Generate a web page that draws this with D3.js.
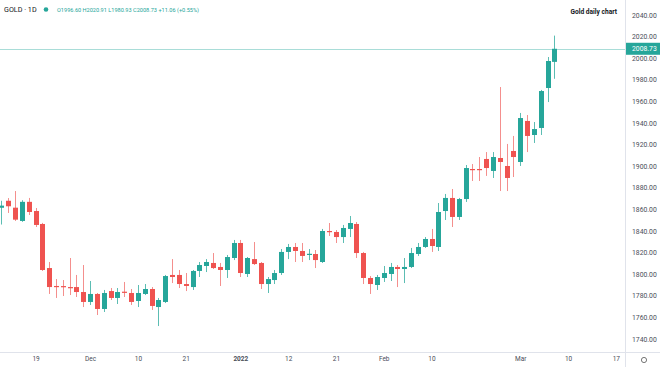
<!DOCTYPE html>
<html><head><meta charset="utf-8">
<script src="https://cdn.jsdelivr.net/npm/d3@7"></script>
<style>
html,body{margin:0;padding:0;background:#fff;}
svg{display:block;font-family:Roboto,"Noto Sans",sans-serif;}
</style></head>
<body><svg id="c" width="660" height="367"></svg>
<script>
const dates = ["2021-11-12","2021-11-15","2021-11-16","2021-11-17","2021-11-18","2021-11-19","2021-11-22","2021-11-23","2021-11-24","2021-11-25","2021-11-26","2021-11-29","2021-11-30","2021-12-01","2021-12-02","2021-12-03","2021-12-06","2021-12-07","2021-12-08","2021-12-09","2021-12-10","2021-12-13","2021-12-14","2021-12-15","2021-12-16","2021-12-17","2021-12-20","2021-12-21","2021-12-22","2021-12-23","2021-12-27","2021-12-28","2021-12-29","2021-12-30","2021-12-31","2022-01-03","2022-01-04","2022-01-05","2022-01-06","2022-01-07","2022-01-10","2022-01-11","2022-01-12","2022-01-13","2022-01-14","2022-01-17","2022-01-18","2022-01-19","2022-01-20","2022-01-21","2022-01-24","2022-01-25","2022-01-26","2022-01-27","2022-01-28","2022-01-31","2022-02-01","2022-02-02","2022-02-03","2022-02-04","2022-02-07","2022-02-08","2022-02-09","2022-02-10","2022-02-11","2022-02-14","2022-02-15","2022-02-16","2022-02-17","2022-02-18","2022-02-21","2022-02-22","2022-02-23","2022-02-24","2022-02-25","2022-02-28","2022-03-01","2022-03-02","2022-03-03","2022-03-04","2022-03-07","2022-03-08"];
const open  = [1861.5,1868.0,1861.6,1849.3,1867.0,1858.5,1846.5,1805.7,1789.1,1789.0,1788.1,1788.1,1783.5,1774.3,1781.7,1767.8,1784.4,1778.0,1783.8,1782.6,1775.2,1781.7,1786.3,1769.6,1774.3,1799.3,1799.3,1790.9,1788.1,1803.0,1807.6,1810.4,1806.7,1803.9,1815.0,1828.9,1800.2,1814.0,1810.4,1790.9,1794.6,1801.1,1820.6,1825.2,1821.5,1818.3,1818.7,1811.3,1840.0,1839.1,1834.4,1841.9,1846.5,1819.6,1796.5,1790.0,1796.5,1800.2,1806.7,1804.8,1806.7,1818.7,1825.2,1832.6,1825.2,1858.5,1870.6,1853.0,1869.6,1897.4,1897.4,1906.7,1895.6,1907.6,1900.2,1914.1,1903.9,1941.9,1928.9,1935.4,1972.4,1996.60];
const high  = [1868.0,1870.5,1877.0,1868.5,1870.6,1861.3,1847.5,1811.3,1795.5,1794.6,1815.0,1799.3,1808.5,1793.7,1782.6,1785.4,1787.2,1787.2,1792.8,1786.3,1790.0,1790.9,1788.1,1778.0,1799.3,1814.0,1803.9,1801.1,1803.9,1811.3,1814.0,1819.6,1810.4,1817.8,1831.7,1831.7,1815.9,1829.8,1811.3,1797.4,1803.9,1823.3,1828.0,1828.9,1828.9,1823.3,1822.4,1841.9,1847.4,1840.9,1845.6,1853.9,1848.3,1820.6,1798.3,1799.3,1807.6,1810.4,1808.5,1815.0,1824.3,1828.9,1834.4,1841.9,1865.9,1874.3,1878.9,1870.6,1901.1,1902.0,1908.5,1913.1,1913.1,1973.3,1920.6,1928.0,1949.3,1947.4,1940.9,1970.6,2001.1,2020.91];
const low   = [1846.0,1856.7,1849.3,1848.5,1854.8,1843.7,1803.0,1781.7,1778.0,1779.8,1780.7,1778.9,1769.6,1771.5,1762.2,1765.0,1776.1,1772.4,1778.9,1771.5,1769.6,1780.7,1766.9,1752.0,1773.3,1791.8,1787.2,1784.4,1785.4,1797.4,1802.0,1804.8,1789.1,1796.5,1813.1,1797.4,1797.4,1808.5,1786.3,1782.6,1790.9,1799.3,1814.0,1811.3,1811.3,1813.1,1805.7,1810.4,1835.4,1828.9,1828.9,1834.4,1815.0,1790.9,1781.7,1785.4,1792.8,1793.7,1788.1,1791.8,1805.7,1816.9,1824.3,1820.6,1821.5,1850.2,1843.7,1850.2,1866.9,1886.3,1886.3,1891.0,1889.1,1877.0,1877.0,1890.0,1900.2,1913.1,1921.5,1928.9,1959.4,1980.93];
const close = [1863.5,1862.9,1850.5,1867.0,1857.6,1845.6,1803.9,1788.1,1788.2,1788.5,1787.2,1783.5,1774.3,1781.7,1767.8,1782.6,1778.0,1783.5,1783.0,1774.3,1782.6,1786.3,1770.6,1776.1,1798.3,1797.4,1790.9,1789.1,1803.0,1808.5,1811.3,1805.7,1803.9,1815.9,1828.9,1801.1,1815.0,1809.4,1790.9,1795.5,1801.1,1820.6,1825.2,1821.5,1816.9,1818.9,1813.1,1840.0,1839.1,1834.4,1842.8,1847.4,1819.6,1796.5,1790.9,1797.4,1801.1,1806.7,1804.8,1806.7,1819.6,1825.2,1832.6,1826.1,1857.6,1870.6,1853.0,1869.6,1898.3,1896.5,1897.2,1898.3,1908.5,1903.9,1889.1,1908.5,1944.6,1928.0,1934.4,1969.6,1997.4,2008.73];
const priceTicks = [1740,1760,1780,1800,1820,1840,1860,1880,1900,1920,1940,1960,1980,2000,2020,2040];
const timeTickIndex = [5,13,20,27,35,42,49,56,63,76,83,90];
const timeTickLabels = ["19","Dec","10","21","2022","12","21","Feb","10","Mar","10","17"];
const symbol = "GOLD · 1D";
const legendText = "O1996.60 H2020.91 L1980.93 C2008.73 +11.06 (+0.55%)";
const chartTitle = "Gold daily chart";
const lastPrice = 2008.73;

const UP="#26a69a", DOWN="#ef5350", UPW="#5cbdb3", DOWNW="#f48f8d";
const svg = d3.select("#c");
const W=660,H=367, paneRight=625, axisY=352;

const x = d3.scaleLinear().domain([0,90]).range([1.4, 1.4+90*6.827]);
const y = d3.scaleLinear().domain([1740,2040]).range([339,15]);

const candles = dates.map((d,i)=>({d,i,o:open[i],h:high[i],l:low[i],c:close[i]}));

svg.append("clipPath").attr("id","pane").append("rect").attr("x",0).attr("y",0).attr("width",paneRight).attr("height",axisY);

// price line
svg.append("line").attr("x1",0).attr("x2",paneRight).attr("y1",Math.round(y(lastPrice))+0.5).attr("y2",Math.round(y(lastPrice))+0.5)
  .attr("stroke","#a9ddd8").attr("stroke-width",1);

const g = svg.append("g").attr("clip-path","url(#pane)");
const bw = 5;
g.selectAll("line.wick").data(candles).join("line").attr("class","wick")
  .attr("x1",d=>Math.round(x(d.i))+0.5).attr("x2",d=>Math.round(x(d.i))+0.5)
  .attr("y1",d=>y(d.h)).attr("y2",d=>y(d.l))
  .attr("stroke",d=>d.c>=d.o?UPW:DOWNW).attr("stroke-width",1);
g.selectAll("rect.body").data(candles).join("rect").attr("class","body")
  .attr("x",d=>Math.round(x(d.i))-2).attr("width",bw)
  .attr("y",d=>y(Math.max(d.o,d.c)))
  .attr("height",d=>Math.max(1.2, Math.abs(y(d.o)-y(d.c))))
  .attr("fill",d=>d.c>=d.o?UP:DOWN);

// borders
svg.append("line").attr("x1",paneRight+0.5).attr("x2",paneRight+0.5).attr("y1",0).attr("y2",H).attr("stroke","#e0e3eb");
svg.append("line").attr("x1",0).attr("x2",W).attr("y1",axisY+0.5).attr("y2",axisY+0.5).attr("stroke","#e0e3eb");

// price axis
const ya = svg.append("g").attr("transform",`translate(${paneRight+7},0)`)
  .call(d3.axisRight(y).tickValues(priceTicks).tickFormat(d3.format(".2f")).tickSize(0).tickPadding(0));
ya.select(".domain").remove();
ya.selectAll("text").attr("font-size",6.8).attr("fill","#4a4e59").attr("font-family","Roboto,sans-serif");

// last price label
const ly = y(lastPrice);
svg.append("rect").attr("x",paneRight+1).attr("y",ly-6).attr("width",W-paneRight-1).attr("height",12).attr("fill",UP);
svg.append("text").attr("x",paneRight+7).attr("y",ly).attr("dy","0.35em").attr("font-size",6.8).attr("fill","#fff").text(d3.format(".2f")(lastPrice));

// time axis
const xa = svg.append("g").attr("transform",`translate(0,${axisY+3})`)
  .call(d3.axisBottom(x).tickValues(timeTickIndex).tickFormat((d,i)=>timeTickLabels[i]).tickSize(0).tickPadding(0));
xa.select(".domain").remove();
xa.selectAll("text").attr("font-size",6.5).attr("fill","#4a4e59").attr("font-family","Roboto,sans-serif")
  .attr("font-weight",(d,i)=>timeTickLabels[i]==="2022"?"bold":"normal").attr("dy","0.9em");

// settings circle
svg.append("circle").attr("cx",644).attr("cy",360).attr("r",2.6).attr("fill","none").attr("stroke","#555").attr("stroke-width",0.8);

// header
svg.append("text").attr("x",4).attr("y",12).attr("font-size",7.2).attr("fill","#131722").text(symbol);
svg.append("circle").attr("cx",46).attr("cy",9.5).attr("r",2.3).attr("fill",UP);
svg.append("text").attr("x",57).attr("y",12).attr("font-size",5.6).attr("fill",UP).text(legendText);
svg.append("text").attr("x",617).attr("y",14).attr("text-anchor","end").attr("font-size",6.6).attr("font-weight","bold").attr("fill","#131722").text(chartTitle);
</script></body></html>
